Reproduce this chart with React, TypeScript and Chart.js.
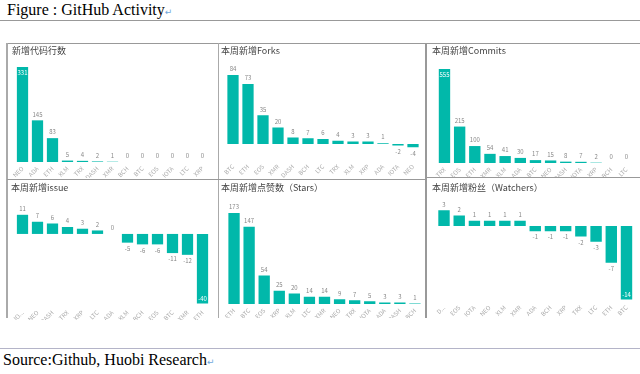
import React, { useEffect, useRef } from "react";
import { Chart, registerables } from "chart.js";
Chart.register(...registerables);

// ---- data ----
const linesTitle = "新增代码行数";
const linesCats = ["NEO", "ADA", "ETH", "XLM", "TRX", "DASH", "XMR", "BCH", "BTC", "EOS", "IOTA", "LTC", "XRP"];
const linesVals = [331, 145, 83, 5, 4, 2, 1, 0, 0, 0, 0, 0, 0];

const forksTitle = "本周新增Forks";
const forksCats = ["BTC", "ETH", "EOS", "XMR", "DASH", "BCH", "LTC", "TRX", "XLM", "XRP", "ADA", "IOTA", "NEO"];
const forksVals = [84, 73, 35, 20, 8, 7, 6, 4, 3, 3, 1, -2, -4];

const commitsTitle = "本周新增Commits";
const commitsCats = ["TRX", "EOS", "ETH", "XMR", "XLM", "ADA", "BTC", "NEO", "DASH", "IOTA", "XRP", "BCH", "LTC"];
const commitsVals = [555, 215, 100, 54, 41, 30, 17, 15, 8, 7, 2, 0, 0];

const issueTitle = "本周新增issue";
const issueCats = ["IO...", "NEO", "DASH", "TRX", "XRP", "LTC", "ADA", "XLM", "BCH", "EOS", "BTC", "XMR", "ETH"];
const issueVals = [11, 7, 6, 4, 3, 2, 0, -5, -6, -6, -11, -12, -40];

const starsTitle = "本周新增点赞数（Stars）";
const starsCats = ["ETH", "BTC", "EOS", "XRP", "XLM", "LTC", "XMR", "NEO", "TRX", "IOTA", "ADA", "DASH", "BCH"];
const starsVals = [173, 147, 54, 25, 20, 14, 14, 9, 7, 5, 3, 3, 1];

const watchTitle = "本周新增粉丝（Watchers）";
const watchCats = ["D...", "EOS", "IOTA", "NEO", "XLM", "XMR", "ADA", "BCH", "XRP", "TRX", "LTC", "ETH", "BTC"];
const watchVals = [3, 2, 1, 1, 1, 1, -1, -1, -1, -2, -3, -7, -14];

const BAR = "#01B8AA";
const SANS = '"Noto Sans CJK SC", "Noto Sans", sans-serif';

type Panel = {
  title: string;
  cats: string[];
  vals: number[];
  left: number; top: number; width: number; height: number;
  titleLeft: number; titleTop: number; titleGap: number;
  padL: number; padR: number; axisH: number;
  yMin: number; yMax: number;
};

const panels: Panel[] = [
  { title: linesTitle, cats: linesCats, vals: linesVals, left: 7, top: 43, width: 211, height: 135,
    titleLeft: 5, titleTop: 2, titleGap: 6.2, padL: 8, padR: 8, axisH: 16, yMin: 0, yMax: 348 },
  { title: forksTitle, cats: forksCats, vals: forksVals, left: 218, top: 43, width: 208, height: 135,
    titleLeft: 3, titleTop: 2, titleGap: 6.2, padL: 7.5, padR: 5.5, axisH: 18, yMin: -19.5, yMax: 99.8 },
  { title: commitsTitle, cats: commitsCats, vals: commitsVals, left: 427, top: 43, width: 213, height: 134,
    titleLeft: 5, titleTop: 2, titleGap: 6.2, padL: 9.9, padR: 6, axisH: 14, yMin: 0, yMax: 596 },
  { title: issueTitle, cats: issueCats, vals: issueVals, left: 7, top: 180, width: 211, height: 140,
    titleLeft: 4, titleTop: 2.6, titleGap: 6.6, padL: 8, padR: 8, axisH: 14, yMin: -41.4, yMax: 19.5 },
  { title: starsTitle, cats: starsCats, vals: starsVals, left: 218, top: 180, width: 208, height: 138,
    titleLeft: 3, titleTop: 2.6, titleGap: 6.6, padL: 8.5, padR: 3.5, axisH: 14, yMin: 0, yMax: 197.7 },
  { title: watchTitle, cats: watchCats, vals: watchVals, left: 427, top: 178, width: 213, height: 139,
    titleLeft: 5, titleTop: 4.6, titleGap: 4.6, padL: 9.4, padR: 5.9, axisH: 16, yMin: -14.3, yMax: 5.33 },
];

const valueLabels = {
  id: "valueLabels",
  afterDatasetsDraw(chart: any) {
    const ctx = chart.ctx as CanvasRenderingContext2D;
    const meta = chart.getDatasetMeta(0);
    const vals = chart.data.datasets[0].data as number[];
    const area = chart.chartArea;
    ctx.save();
    ctx.font = `6px ${SANS}`;
    ctx.textAlign = "center";
    ctx.textBaseline = "middle";
    meta.data.forEach((bar: any, i: number) => {
      const v = vals[i];
      const { x, y } = bar.getProps(["x", "y"], true);
      const text = String(v);
      let ty: number;
      let color = "#888";
      if (v >= 0) {
        ty = y - 6;
        if (ty - 3 < area.top) { ty = y + 6; color = "#fff"; }
      } else {
        ty = y + 6;
        if (ty + 3 > area.bottom) { ty = y - 5; color = "#fff"; }
      }
      ctx.fillStyle = color;
      ctx.fillText(text, x, ty);
    });
    ctx.restore();
  },
};

function makeConfig(p: Panel): any {
  return {
    type: "bar",
    data: {
      labels: p.cats,
      datasets: [{
        data: p.vals,
        backgroundColor: BAR,
        borderWidth: 0,
        barPercentage: 0.75,
        categoryPercentage: 1,
      }],
    },
    options: {
      animation: false,
      responsive: false,
      maintainAspectRatio: false,
      events: [],
      layout: { padding: { left: p.titleLeft, top: 0, right: 0, bottom: 0 } },
      plugins: {
        legend: { display: false },
        tooltip: { enabled: false },
        title: {
          display: true,
          text: p.title,
          align: "start",
          color: "#444",
          font: { family: SANS, size: 9, weight: "normal", lineHeight: 1.2 },
          padding: { top: p.titleTop, bottom: p.titleGap },
        },
      },
      scales: {
        x: {
          grid: { display: false, drawTicks: false },
          border: { display: false },
          ticks: {
            color: "#aaa",
            font: { family: SANS, size: 6 },
            minRotation: 45,
            maxRotation: 45,
            padding: 3,
            autoSkip: false,
          },
          afterFit: (s: any) => {
            s.height = p.axisH;
            s.paddingLeft = p.padL;
            s.paddingRight = p.padR;
          },
        },
        y: { display: false, min: p.yMin, max: p.yMax },
      },
    },
    plugins: [valueLabels],
  };
}

const line = (left: number, top: number, width: number, height: number, color: string) => (
  <div style={{ position: "absolute", left, top, width, height, background: color }} />
);

export default function App() {
  const refs = useRef<(HTMLCanvasElement | null)[]>([]);
  useEffect(() => {
    const charts = panels.map((p, i) => new Chart(refs.current[i] as HTMLCanvasElement, makeConfig(p)));
    return () => charts.forEach((c) => c.destroy());
  }, []);

  const serif = '"Liberation Serif", "Times New Roman", serif';
  return (
    <div style={{ position: "absolute", left: 0, top: 0, width: 640, height: 374, background: "#fff", overflow: "hidden" }}>
      <div style={{ position: "absolute", left: 7, top: 1, fontFamily: serif, fontSize: 16, lineHeight: "18px", color: "#000", whiteSpace: "nowrap" }}>
        Figure : GitHub Activity<span style={{ color: "#6fa8dc", fontSize: 9, fontFamily: "DejaVu Sans" }}>↵</span>
      </div>
      {line(0, 20, 640, 1, "#999")}

      {panels.map((p, i) => (
        <canvas
          key={i}
          ref={(el) => { refs.current[i] = el; }}
          width={p.width}
          height={p.height}
          style={{ position: "absolute", left: p.left, top: p.top, width: p.width, height: p.height }}
        />
      ))}

      {line(7, 43, 633, 1, "#999")}
      {line(6, 43, 2, 275, "#aaa")}
      {line(218, 43, 1, 275, "#aaa")}
      {line(425, 43, 2, 275, "#999")}
      {line(7, 179, 418, 1, "#999")}
      {line(427, 177, 213, 1, "#999")}

      {line(0, 348, 640, 1, "#b4b4c8")}
      <div style={{ position: "absolute", left: 3, top: 351, fontFamily: serif, fontSize: 16, lineHeight: "18px", color: "#000", whiteSpace: "nowrap" }}>
        Source:Github, Huobi Research<span style={{ color: "#6fa8dc", fontSize: 9, fontFamily: "DejaVu Sans" }}>↵</span>
      </div>
    </div>
  );
}
